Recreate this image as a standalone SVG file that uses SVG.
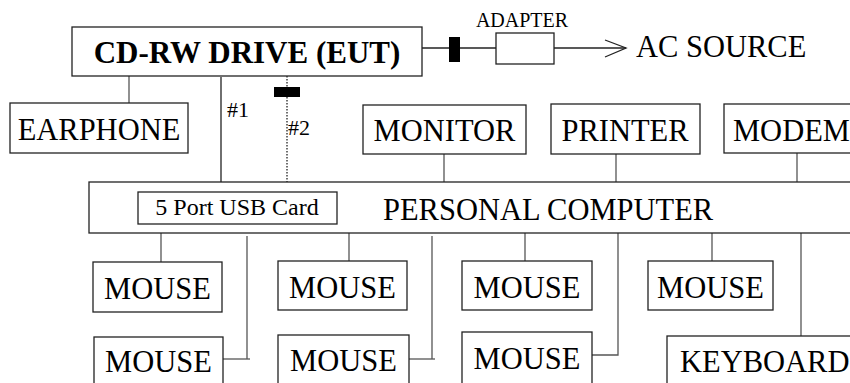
<svg xmlns="http://www.w3.org/2000/svg" width="850" height="383" viewBox="0 0 850 383">
<style>
.box{fill:#fff;stroke:#222;stroke-width:1.3}
.t{font-family:"Liberation Serif","Times New Roman",serif;font-size:30.5px;fill:#000}
.s{font-size:22px}
.u{font-size:24px}
.a{font-size:20px}
.b{font-size:31px;font-weight:bold}
.c{stroke:#555;stroke-width:1.3;fill:none}
.k{stroke:#222}
.m{text-anchor:middle}
</style>
<rect width="850" height="383" fill="#fff"/>
<g id="connectors">
<line class="c" x1="129" y1="76" x2="129" y2="103"/>
<line class="c k" x1="221" y1="77" x2="221" y2="192"/>
<line class="c k" x1="287" y1="76" x2="287" y2="192" stroke-dasharray="1.5,1.5"/>
<rect x="274" y="87" width="26" height="10" fill="#000"/>
<line class="c k" x1="422" y1="48" x2="496" y2="48"/>
<rect x="449" y="37" width="11" height="25" fill="#000"/>
<line class="c k" x1="554" y1="48" x2="626" y2="48"/>
<polyline class="c k" points="605,40 626,48 605,57"/>
<line class="c" x1="444" y1="154" x2="444" y2="182"/>
<line class="c" x1="616" y1="154" x2="616" y2="182"/>
<line class="c" x1="797" y1="153" x2="797" y2="182"/>
<line class="c" x1="161" y1="233" x2="161" y2="262"/>
<line class="c" x1="349" y1="233" x2="349" y2="261"/>
<line class="c" x1="525" y1="233" x2="525" y2="261"/>
<line class="c" x1="712" y1="233" x2="712" y2="261"/>
<polyline class="c" points="247,236 247,359"/>
<line class="c" x1="223" y1="359" x2="250" y2="359"/>
<polyline class="c" points="432,236 432,359"/>
<line class="c" x1="409" y1="359" x2="435" y2="359"/>
<polyline class="c" points="618,233 618,355 592,355"/>
<line class="c" x1="801" y1="233" x2="801" y2="336"/>
<text class="t s" x="227" y="117">#1</text>
<text class="t s" x="288" y="135">#2</text>
</g>
<g id="cdrw"><rect class="box" x="72" y="27" width="350" height="49"/><text class="t b m" x="247" y="63">CD-RW DRIVE (EUT)</text></g>
<g id="adapter"><rect class="box" x="496" y="33" width="58" height="31"/><text class="t a m" x="522" y="27">ADAPTER</text></g>
<g id="acsource"><text class="t" x="636" y="57">AC SOURCE</text></g>
<g id="earphone"><rect class="box" x="10" y="103" width="178" height="50"/><text class="t m" x="99" y="140">EARPHONE</text></g>
<g id="monitor"><rect class="box" x="363" y="105" width="163" height="49"/><text class="t m" x="444.5" y="141">MONITOR</text></g>
<g id="printer"><rect class="box" x="551" y="104" width="149" height="50"/><text class="t m" x="625" y="141">PRINTER</text></g>
<g id="modem"><rect class="box" x="724" y="104" width="140" height="49"/><text class="t" x="733" y="141">MODEM</text></g>
<g id="pc"><rect class="box" x="89" y="182" width="800" height="51"/><text class="t" x="383" y="220">PERSONAL COMPUTER</text></g>
<g id="usb"><rect class="box" x="138" y="192" width="199" height="32"/><text class="t u m" x="237" y="215">5 Port USB Card</text></g>
<g id="mouse1"><rect class="box" x="93" y="262" width="129" height="50"/><text class="t m" x="157.5" y="299">MOUSE</text></g>
<g id="mouse2"><rect class="box" x="94" y="337" width="129" height="60"/><text class="t m" x="158.5" y="372">MOUSE</text></g>
<g id="mouse3"><rect class="box" x="278" y="261" width="129" height="49"/><text class="t m" x="342.5" y="298">MOUSE</text></g>
<g id="mouse4"><rect class="box" x="278" y="335" width="131" height="60"/><text class="t m" x="343.5" y="371">MOUSE</text></g>
<g id="mouse5"><rect class="box" x="462" y="261" width="130" height="49"/><text class="t m" x="527" y="298">MOUSE</text></g>
<g id="mouse6"><rect class="box" x="462" y="332" width="130" height="60"/><text class="t m" x="527" y="369">MOUSE</text></g>
<g id="mouse7"><rect class="box" x="648" y="261" width="125" height="49"/><text class="t m" x="710.5" y="298">MOUSE</text></g>
<g id="keyboard"><rect class="box" x="667" y="336" width="200" height="60"/><text class="t" x="680" y="372">KEYBOARD</text></g>
</svg>
